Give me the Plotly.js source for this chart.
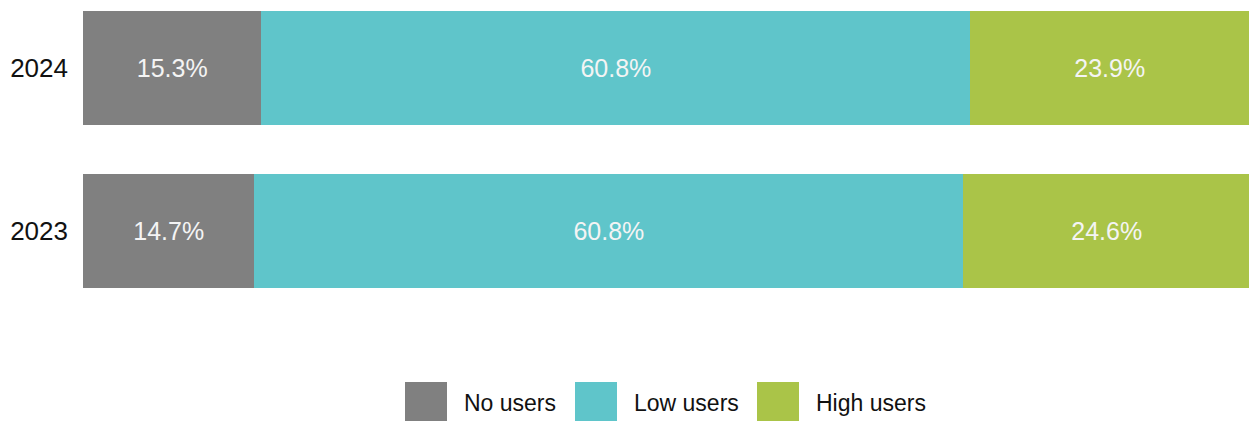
<!DOCTYPE html>
<html>
<head>
<meta charset="utf-8">
<script src="https://cdn.plot.ly/plotly-3.0.1.min.js"></script>
<style>
  html, body { margin: 0; padding: 0; background: #ffffff; }
  #chart { width: 1249px; height: 421px; }
</style>
</head>
<body>
<div id="chart"></div>
<script>
// ---- data ----
const years = ["2023", "2024"];
const seriesNames = ["No users", "Low users", "High users"];
const noUsers = [14.7, 15.3];
const lowUsers = [60.8, 60.8];
const highUsers = [24.6, 23.9];

// ---- styles ----
const colors = ["#808080", "#5fc5ca", "#aac448"];
const FONT = "Liberation Sans, Arial, sans-serif";
const W = 1249, H = 421;
const M = { l: 83, r: 0, t: 0, b: 81 };
const plotW = W - M.l - M.r, plotH = H - M.t - M.b;
const px = x => (x - M.l) / plotW;
const py = y => (M.t + plotH - y) / plotH;

const values = [noUsers, lowUsers, highUsers];
const traces = values.map((v, i) => ({
  type: "bar",
  orientation: "h",
  name: seriesNames[i],
  y: years,
  x: v,
  marker: { color: colors[i], line: { width: 0 } },
  texttemplate: "%{x:.1f}%",
  textposition: "inside",
  insidetextanchor: "middle",
  textfont: { family: FONT, size: 25, color: "#f4f4f4" },
  hoverinfo: "skip"
}));

// custom legend (large swatches)
const swatchLeft = [405, 575, 757];
const textLeft = [462, 632, 814];
const shapes = seriesNames.map((n, i) => ({
  type: "rect", xref: "paper", yref: "paper",
  x0: px(swatchLeft[i]), x1: px(swatchLeft[i] + 42),
  y0: py(382), y1: py(430),
  fillcolor: colors[i], line: { width: 0 }
}));
const annotations = seriesNames.map((n, i) => ({
  xref: "paper", yref: "paper",
  x: px(textLeft[i]), y: py(403),
  xanchor: "left", yanchor: "middle",
  text: n, showarrow: false,
  font: { family: FONT, size: 23, color: "#111111" }
}));

const layout = {
  width: W, height: H,
  margin: M,
  barmode: "stack",
  bargap: 0.3,
  showlegend: false,
  paper_bgcolor: "#ffffff",
  plot_bgcolor: "#ffffff",
  font: { family: FONT, color: "#111111" },
  xaxis: {
    range: [0, 100], showgrid: false, zeroline: false,
    showticklabels: false, showline: false, fixedrange: true
  },
  yaxis: {
    type: "category",
    range: [-0.6687, 1.4172],
    showgrid: false, zeroline: false, showline: false,
    ticks: "", ticklabelstandoff: 14,
    tickfont: { family: FONT, size: 26, color: "#111111" },
    fixedrange: true
  },
  shapes: shapes,
  annotations: annotations
};

Plotly.newPlot("chart", traces, layout, { displayModeBar: false, staticPlot: true });
</script>
</body>
</html>
